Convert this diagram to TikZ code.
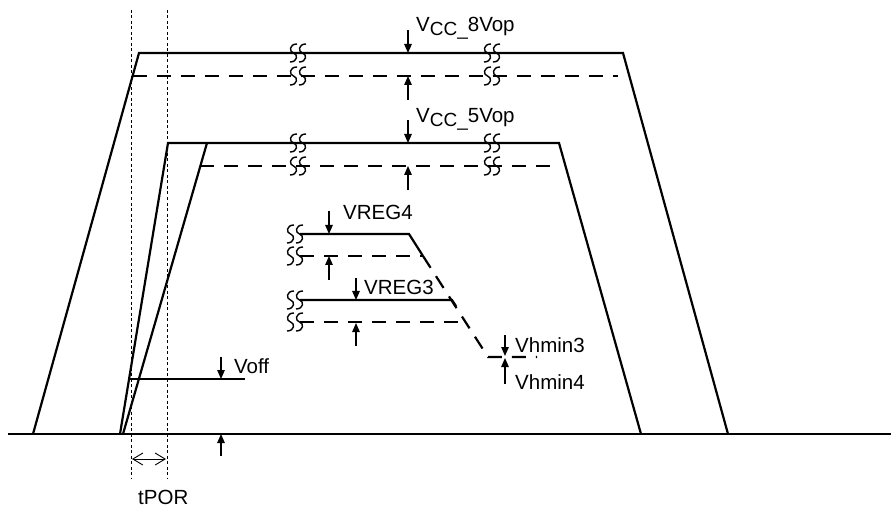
\documentclass[tikz,border=0pt]{standalone}
\usepackage{fontspec}
\setmainfont{Liberation Sans}
\usetikzlibrary{arrows.meta}
\begin{document}
\begin{tikzpicture}[x=1bp,y=-1bp,
  wave/.style={line width=2.2bp, line join=miter},
  dwave/.style={line width=2.2bp, dash pattern=on 14bp off 10bp},
  thinline/.style={line width=1.2bp},
  dotline/.style={line width=0.9bp, dash pattern=on 3bp off 2.5bp},
  marker/.style={line width=1.3bp, -{Triangle[width=7.5bp,length=9bp]}},
  porarrow/.style={line width=0.9bp, {Straight Barb[length=10bp,width=12bp]}-{Straight Barb[length=10bp,width=12bp]}},
  lbl/.style={font=\fontsize{20.5bp}{24bp}\selectfont, inner sep=0pt, anchor=base west},
  brkS/.style={line width=1.4bp},
  brk/.pic={
    \draw[brkS] (-1,-9) .. controls (-9,-9) and (-9,-1) .. (-4.5,0) .. controls (0,1) and (0,9) .. (-8,9);
    \draw[brkS] (8,-9) .. controls (0,-9) and (0,-1) .. (4.5,0) .. controls (9,1) and (9,9) .. (1,9);
  }
]
\useasboundingbox (0,0) rectangle (891,509);

% ground line
\coordinate (g0) at (8,434);
\coordinate (g1) at (891,434);
\draw[thinline] (g0) -- (g1);

% tPOR dotted markers
\coordinate (d1t) at (131,10);
\coordinate (d1b) at (131,478);
\coordinate (d2t) at (167,10);
\coordinate (d2b) at (167,478);
\draw[dotline] (d1t) -- (d1b);
\draw[dotline] (d2t) -- (d2b);

% VCC 8V trapezoid
\coordinate (a0) at (33,434);
\coordinate (a1) at (139,53);
\coordinate (a2) at (623,53);
\coordinate (a3) at (728,434);
\draw[wave] (a0) -- (a1) -- (a2) -- (a3);
\coordinate (a4) at (132.6,76);
\coordinate (a5) at (618,76);
\draw[dwave] (a4) -- (a5);

% VCC 5V trapezoid
\coordinate (b0) at (120,434);
\coordinate (b1) at (168,143);
\coordinate (b2) at (559,143);
\coordinate (b3) at (641,434);
\draw[wave] (b0) -- (b1) -- (b2) -- (b3);
\coordinate (c0) at (123,434);
\coordinate (c1) at (207,143);
\draw[wave] (c0) -- (c1);
\coordinate (b4) at (200,166);
\coordinate (b5) at (556,166);
\draw[dwave] (b4) -- (b5);

% break marks
\foreach \yy in {53,76,143,166} {
  \pic at (298,\yy) {brk};
  \pic at (492,\yy) {brk};
}

% VREG4 / VREG3 / Vhmin
\coordinate (r0) at (300,234);
\coordinate (r1) at (409,234);
\coordinate (r2) at (423,256);
\coordinate (r3) at (300,256);
\coordinate (r4) at (488,357);
\coordinate (r5) at (537,357);
\draw[wave] (r0) -- (r1) -- (r2);
\draw[dwave] (r3) -- (r2);
\draw[dwave] (r2) -- (r4) -- (r5);
\coordinate (s0) at (300,300);
\coordinate (s1) at (452,300);
\coordinate (s2) at (456,306);
\coordinate (s3) at (300,322);
\coordinate (s4) at (465,322);
\draw[wave] (s0) -- (s1) -- (s2);
\draw[dwave] (s3) -- (s4);
\foreach \yy in {234,256,300,322} {
  \pic at (295,\yy) {brk};
}

% Voff line
\coordinate (v0) at (130,379);
\coordinate (v1) at (245,379);
\draw[thinline] (v0) -- (v1);

% level arrows
\draw[marker] (408,30) -- (408,53);
\draw[marker] (408,100) -- (408,76);
\draw[marker] (408,120) -- (408,143);
\draw[marker] (408,190) -- (408,166);
\draw[marker] (329,211) -- (329,234);
\draw[marker] (329,280) -- (329,256);
\draw[marker] (356,278) -- (356,300);
\draw[marker] (356,346) -- (356,323);
\draw[marker] (505,335) -- (505,356);
\draw[marker] (505,384) -- (505,358);
\draw[marker] (221,357) -- (221,379);
\draw[marker] (221,456) -- (221,434);

% tPOR arrow
\coordinate (p0) at (132,459);
\coordinate (p1) at (166,459);
\draw[porarrow] (p0) -- (p1);

% labels
\node[lbl] (l8) at (416,32) {V\raisebox{-4bp}{\fontsize{19bp}{22bp}\selectfont CC\_}8Vop};
\node[lbl] (l5) at (416,123) {V\raisebox{-4bp}{\fontsize{19bp}{22bp}\selectfont CC\_}5Vop};
\node[lbl] (lr4) at (343,220) {VREG4};
\node[lbl] (lr3) at (364,295) {VREG3};
\node[lbl] (lh3) at (515,353) {Vhmin3};
\node[lbl] (lh4) at (515,389) {Vhmin4};
\node[lbl] (lof) at (234,373) {Voff};
\node[lbl] (ltp) at (138,504) {tPOR};
\end{tikzpicture}
\end{document}
